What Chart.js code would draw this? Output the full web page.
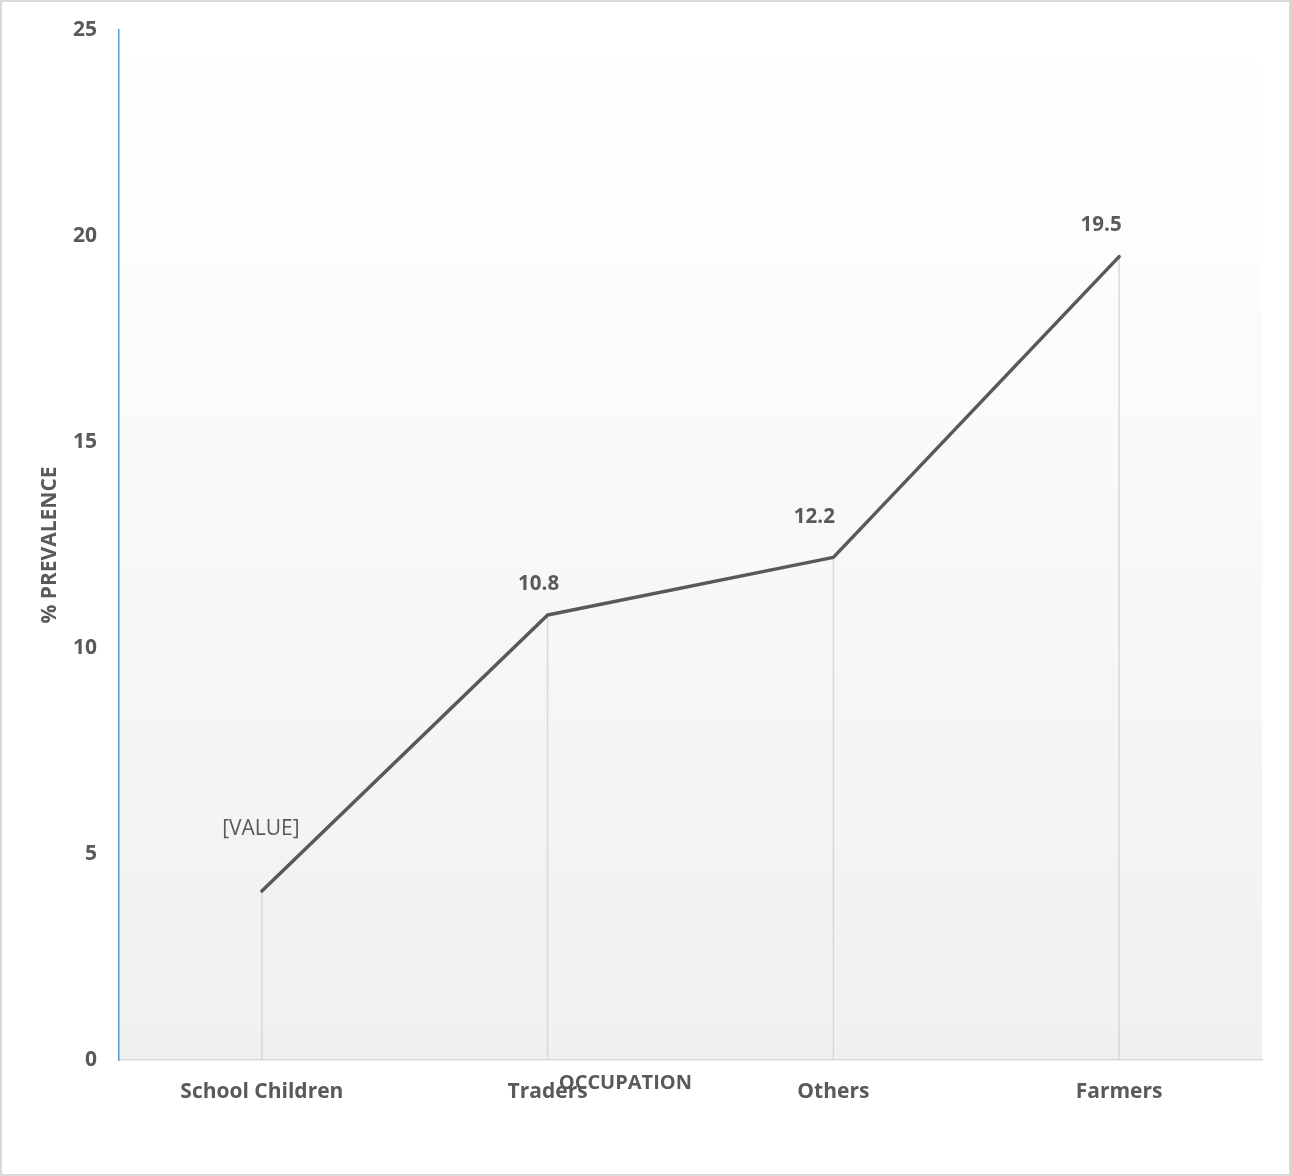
<!DOCTYPE html>
<html>
<head>
<meta charset="utf-8">
<script src="https://cdn.jsdelivr.net/npm/chart.js@4/dist/chart.umd.min.js"></script>
<style>
  html, body { margin: 0; padding: 0; background: #ffffff; }
  #wrap { position: relative; width: 1291px; height: 1176px; }
  canvas { display: block; }
</style>
</head>
<body>
<div id="wrap"><canvas id="chart" width="1291" height="1176"></canvas></div>
<script>
// Prevalence by occupation
const categories = ['School Children', 'Traders', 'Others', 'Farmers'];
const prevalence = [4.1, 10.8, 12.2, 19.5];
const yTicks = [0, 5, 10, 15, 20, 25];
const yTitle = '% PREVALENCE';
const xTitle = 'OCCUPATION';
const firstPointLabel = '[VALUE]';

const textColor = '#595959';
const fontFamily = '"Open Sans", "Liberation Sans", sans-serif';

// label text for each point: the first one carries a placeholder
function pointLabel(i) {
  return i === 0 ? firstPointLabel : prevalence[i].toFixed(1);
}

// label placement relative to its point (dx, dy in px)
const labelShift = [[-1, -62], [-9, -31], [-19, -40], [-18, -31]];

const framePlugin = {
  id: 'frame',
  beforeDraw(chart) {
    const { ctx, width, height, chartArea: a } = chart;
    ctx.save();
    ctx.fillStyle = '#ffffff';
    ctx.fillRect(0, 0, width, height);
    // plot area gradient
    const g = ctx.createLinearGradient(0, a.top, 0, a.bottom);
    g.addColorStop(0, '#ffffff');
    g.addColorStop(0.13, '#fefefe');
    g.addColorStop(1, '#f0f0f0');
    ctx.fillStyle = g;
    ctx.fillRect(a.left, a.top, a.right - a.left, a.bottom - a.top);
    // outer border
    ctx.strokeStyle = '#d9d9d9';
    ctx.lineWidth = 2;
    ctx.strokeRect(1, 1, width - 2, height - 2);
    ctx.restore();
  }
};

const dropLinePlugin = {
  id: 'dropLines',
  beforeDatasetsDraw(chart) {
    const { ctx } = chart;
    const meta = chart.getDatasetMeta(0);
    const yScale = chart.scales.y;
    const base = yScale.getPixelForValue(0);
    ctx.save();
    ctx.strokeStyle = '#d9d9d9';
    ctx.lineWidth = 1.5;
    meta.data.forEach(pt => {
      ctx.beginPath();
      ctx.moveTo(pt.x, pt.y);
      ctx.lineTo(pt.x, base);
      ctx.stroke();
    });
    ctx.restore();
  }
};

const labelPlugin = {
  id: 'pointLabels',
  afterDatasetsDraw(chart) {
    const { ctx } = chart;
    const meta = chart.getDatasetMeta(0);
    ctx.save();
    ctx.fillStyle = textColor;
    ctx.textAlign = 'center';
    ctx.textBaseline = 'middle';
    meta.data.forEach((pt, i) => {
      ctx.font = (i === 0 ? '400 21px ' : '700 20.5px ') + fontFamily;
      ctx.fillText(pointLabel(i), pt.x + labelShift[i][0], pt.y + labelShift[i][1]);
    });
    ctx.restore();
  }
};

const xTitlePlugin = {
  id: 'xTitle',
  afterDraw(chart) {
    const { ctx, chartArea: a } = chart;
    ctx.save();
    ctx.fillStyle = textColor;
    ctx.font = '700 20px ' + fontFamily;
    ctx.textAlign = 'center';
    ctx.textBaseline = 'middle';
    ctx.fillText(xTitle, a.left + (a.right - a.left) * 0.443, a.bottom + 23);
    ctx.restore();
  }
};

new Chart(document.getElementById('chart'), {
  type: 'line',
  data: {
    labels: categories,
    datasets: [{
      data: prevalence,
      borderColor: '#595959',
      borderWidth: 3.5,
      borderCapStyle: 'round',
      borderJoinStyle: 'round',
      pointRadius: 0,
      pointHoverRadius: 0,
      tension: 0,
      fill: false
    }]
  },
  options: {
    responsive: false,
    animation: false,
    devicePixelRatio: 1,
    layout: { padding: { top: 30, right: 29, left: 0, bottom: 0 } },
    plugins: {
      legend: { display: false },
      tooltip: { enabled: false }
    },
    scales: {
      x: {
        offset: true,
        grid: { display: false, drawTicks: false },
        border: { display: true, color: '#d9d9d9', width: 1.5 },
        ticks: {
          color: textColor,
          font: { family: fontFamily, size: 21, weight: '700' },
          padding: 19,
          maxRotation: 0
        },
        afterFit(scale) { scale.height = 116; }
      },
      y: {
        min: 0,
        max: 25,
        afterBuildTicks(scale) { scale.ticks = yTicks.map(v => ({ value: v })); },
        grid: { display: false, drawTicks: false },
        border: { display: true, color: '#5b9bd5', width: 1.5 },
        ticks: {
          color: textColor,
          font: { family: fontFamily, size: 21, weight: '700' },
          padding: 22
        },
        title: {
          display: true,
          text: yTitle,
          color: textColor,
          font: { family: fontFamily, size: 21, weight: '700' },
          padding: { top: 37, bottom: 0 }
        },
        afterFit(scale) {
          scale.width = 119;
          scale.paddingTop = 0;
          scale.paddingBottom = 0;
        }
      }
    }
  },
  plugins: [framePlugin, dropLinePlugin, labelPlugin, xTitlePlugin]
});
</script>
</body>
</html>
